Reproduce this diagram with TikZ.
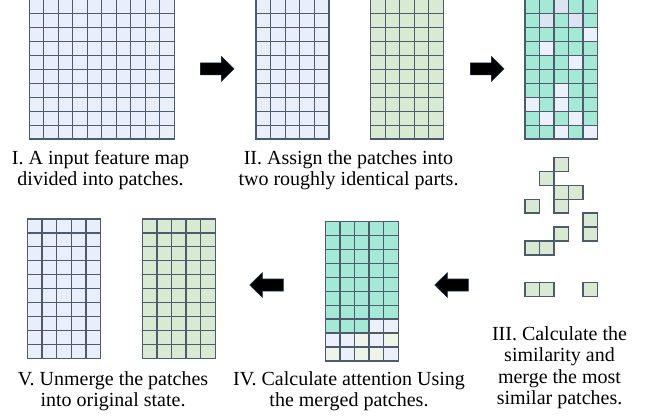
\documentclass[tikz,border=0pt]{standalone}
\usepackage{fontspec}
\setmainfont{Liberation Serif}
\definecolor{pblue}{HTML}{E8EEFA}
\definecolor{pbluedk}{HTML}{DCE3F3}
\definecolor{pgreen}{HTML}{D8EAD2}
\definecolor{pteal}{HTML}{A3E9D6}
\definecolor{pgreenlt}{HTML}{EEF4E8}
\definecolor{pbluelt}{HTML}{EBF0FB}
\definecolor{pline}{HTML}{4E5B6D}
\definecolor{arrowedge}{HTML}{1B2A48}
\newcommand{\patchlines}[6]{% x0 y0 ncols nrows w h
  \foreach \i in {0,...,#3} \draw[gridline] (#1+\i*#5,#2) -- ++(0,#4*#6);
  \foreach \j in {0,...,#4} \draw[gridline] (#1,#2+\j*#6) -- ++(#3*#5,0);
}
\newcommand{\patchgrid}[7]{% x0 y0 ncols nrows w h fill
  \fill[#7] (#1,#2) rectangle ++(#3*#5,#4*#6);
  \patchlines{#1}{#2}{#3}{#4}{#5}{#6}
}
\begin{document}
\begin{tikzpicture}[x=1pt,y=-1pt,
  gridline/.style={draw=pline,line width=1.25pt,line cap=rect},
  lbl/.style={font=\fontsize{20}{21.3}\selectfont,inner sep=0pt,anchor=base},
  blockarrow/.style={fill=black,draw=arrowedge,line width=0.6pt,line join=miter}]
\useasboundingbox (0,0) rectangle (647,416);

% I. input feature map
\patchgrid{29.3}{-0.4}{10}{10}{14.5}{13.95}{pblue}

% II. two parts
\patchgrid{256}{-0.4}{5}{10}{14.6}{13.95}{pblue}
\patchgrid{370.7}{-0.4}{5}{10}{14.52}{13.95}{pgreen}

% III. similarity grid
\fill[pteal] (525,-0.4) rectangle ++(72.6,139.5);
\foreach \c/\r in {2/0,1/1,3/1}
  \fill[pbluedk] (525+\c*14.52,-0.4+\r*13.95) rectangle ++(14.52,13.95);
\foreach \c/\r in {4/2,1/3,3/4,2/6,0/7,2/7,1/8,3/8,2/9,4/9}
  \fill[pbluelt] (525+\c*14.52,-0.4+\r*13.95) rectangle ++(14.52,13.95);
\patchlines{525}{-0.4}{5}{10}{14.52}{13.95}

% III. merged scattered patches
\foreach \c/\r in {2/0,1/1,2/2,3/2,0/3,2/3,4/4,4/5,2/5,0/6,1/6,0/9,1/9,4/9}
  \draw[gridline,fill=pgreen] (525+\c*14.52,157.3+\r*13.95) rectangle ++(14.52,13.95);

% IV. merged attention grid
\fill[pteal] (325.3,221.3) rectangle ++(73,139.7);
\foreach \c/\r in {3/7,4/7,0/8,1/8,3/8,1/9,4/9}
  \fill[pbluelt] (325.3+\c*14.6,221.3+\r*13.97) rectangle ++(14.6,13.97);
\foreach \c/\r in {2/8,4/8,0/9,2/9,3/9}
  \fill[pgreenlt] (325.3+\c*14.6,221.3+\r*13.97) rectangle ++(14.6,13.97);
\patchlines{325.3}{221.3}{5}{10}{14.6}{13.97}

% V. unmerged
\patchgrid{27.3}{219}{5}{10}{14.68}{13.93}{pblue}
\patchgrid{142.3}{219}{5}{10}{14.6}{13.93}{pgreen}

% arrows
\begin{scope}[shift={(200.5,68.8)}]
  \draw[blockarrow] (0,-6) -- (21,-6) -- (21,-12.3) -- (33.5,0) -- (21,12.3) -- (21,6) -- (0,6) -- cycle;
\end{scope}
\begin{scope}[shift={(470.5,68.8)}]
  \draw[blockarrow] (0,-6) -- (21,-6) -- (21,-12.3) -- (33.5,0) -- (21,12.3) -- (21,6) -- (0,6) -- cycle;
\end{scope}
\begin{scope}[shift={(468.3,285)},xscale=-1]
  \draw[blockarrow] (0,-6) -- (21,-6) -- (21,-12.3) -- (33.5,0) -- (21,12.3) -- (21,6) -- (0,6) -- cycle;
\end{scope}
\begin{scope}[shift={(283.3,285)},xscale=-1]
  \draw[blockarrow] (0,-6) -- (21,-6) -- (21,-12.3) -- (33.5,0) -- (21,12.3) -- (21,6) -- (0,6) -- cycle;
\end{scope}

% labels
\node[lbl] (l1a) at (100.5,164) {I. A input feature map};
\node[lbl] (l1b) at (100.5,185) {divided into patches.};
\node[lbl] (l2a) at (348.5,164) {II. Assign the patches into};
\node[lbl] (l2b) at (348.5,185) {two roughly identical parts.};
\node[lbl] (l3a) at (559.5,340.5) {III. Calculate the};
\node[lbl] (l3b) at (559.5,361.7) {similarity and};
\node[lbl] (l3c) at (559.5,383) {merge the most};
\node[lbl] (l3d) at (559.5,404.2) {similar patches.};
\node[lbl] (l4a) at (349,385) {IV. Calculate attention Using};
\node[lbl] (l4b) at (349,406) {the merged patches.};
\node[lbl] (l5a) at (113,385) {V. Unmerge the patches};
\node[lbl] (l5b) at (113,406) {into original state.};
\end{tikzpicture}
\end{document}
